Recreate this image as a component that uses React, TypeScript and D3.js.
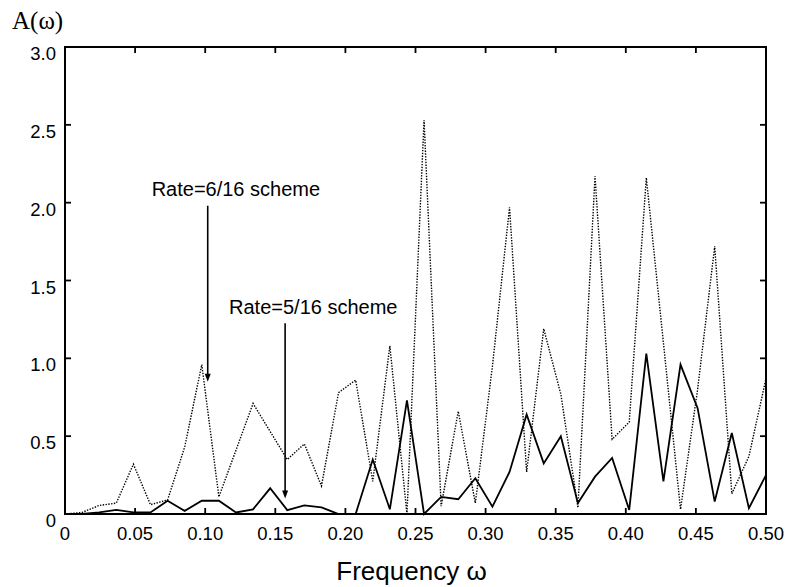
import { useMemo } from 'react';
import * as d3 from 'd3';

// frequency grid: DFT bins k/82, k = 0..41 (last bin lands on 0.5)
const bins = d3.range(42);
const freq = bins.map(k => k / 82);

// amplitude of the two schemes
const rate6 = [
  0, 0.01, 0.055, 0.07, 0.32, 0.06, 0.09, 0.43, 0.96, 0.11,
  0.41, 0.71, 0.53, 0.35, 0.45, 0.18, 0.78, 0.86, 0.21, 1.08,
  0.0, 2.53, 0.05, 0.66, 0.07, 0.95, 1.97, 0.27, 1.19, 0.77,
  0.04, 2.17, 0.48, 0.59, 2.16, 1.1, 0.03, 0.8, 1.72, 0.13,
  0.37, 0.87,
];
const rate5 = [
  0, 0, 0.01, 0.026, 0.01, 0.01, 0.085, 0.02, 0.085, 0.085,
  0.01, 0.03, 0.165, 0.025, 0.055, 0.043, 0.0, 0.0, 0.35, 0.03,
  0.73, 0.0, 0.11, 0.095, 0.23, 0.047, 0.27, 0.64, 0.325, 0.5,
  0.07, 0.24, 0.36, 0.026, 1.03, 0.21, 0.96, 0.68, 0.08, 0.52,
  0.037, 0.25,
];

const xTicks = [0, 0.05, 0.1, 0.15, 0.2, 0.25, 0.3, 0.35, 0.4, 0.45, 0.5];
const xTickLabels = ['0', '0.05', '0.10', '0.15', '0.20', '0.25', '0.30', '0.35', '0.40', '0.45', '0.50'];
const yTicks = [0, 0.5, 1, 1.5, 2, 2.5, 3];
const yTickLabels = ['0', '0.5', '1.0', '1.5', '2.0', '2.5', '3.0'];

// annotations: label position and arrow (data units)
const notes = [
  { text: 'Rate=6/16 scheme', tx: 0.0618, ty: 2.04, ax: 0.1018, y0: 1.98, y1: 0.85 },
  { text: 'Rate=5/16 scheme', tx: 0.117, ty: 1.285, ax: 0.157, y0: 1.225, y1: 0.1 },
];

const W = 785;
const H = 587;
const MARGIN = { top: 47, right: 19, bottom: 73, left: 65 };
const SANS = '"Liberation Sans", Arial, Helvetica, sans-serif';
const SERIF = '"Liberation Serif", "Times New Roman", serif';

export default function App() {
  const x = useMemo(() => d3.scaleLinear().domain([0, 0.5]).range([MARGIN.left, W - MARGIN.right]), []);
  const y = useMemo(() => d3.scaleLinear().domain([0, 3]).range([H - MARGIN.bottom, MARGIN.top]), []);

  const line = d3
    .line<number>()
    .x((_, i) => x(freq[i]))
    .y(d => y(d));

  const [x0, x1] = x.range();
  const [yb, yt] = y.range();
  const tick = 6;

  return (
    <div style={{ position: 'absolute', left: 0, top: 0 }}>
      <svg width={W} height={H} style={{ display: 'block', background: '#fff' }}>
        {/* series */}
        <path d={line(rate6) ?? ''} fill="none" stroke="#000" strokeWidth={1.4} strokeDasharray="1.4,1.4" />
        <path d={line(rate5) ?? ''} fill="none" stroke="#000" strokeWidth={1.8} strokeLinejoin="miter" />

        {/* frame */}
        <rect x={x0} y={yt} width={x1 - x0} height={yb - yt} fill="none" stroke="#000" strokeWidth={2} />

        {/* x ticks, bottom and top, pointing in */}
        {xTicks.map((t, i) => (
          <g key={'xt' + i}>
            <line x1={x(t)} x2={x(t)} y1={yb} y2={yb - tick} stroke="#000" strokeWidth={1.8} />
            <line x1={x(t)} x2={x(t)} y1={yt} y2={yt + tick} stroke="#000" strokeWidth={1.8} />
            <text x={x(t)} y={yb + 26} textAnchor="middle" fontFamily={SANS} fontSize={18.5}>
              {xTickLabels[i]}
            </text>
          </g>
        ))}

        {/* y ticks, left and right */}
        {yTicks.map((t, i) => (
          <g key={'yt' + i}>
            <line x1={x0} x2={x0 + tick} y1={y(t)} y2={y(t)} stroke="#000" strokeWidth={1.8} />
            <line x1={x1} x2={x1 - tick} y1={y(t)} y2={y(t)} stroke="#000" strokeWidth={1.8} />
            <text x={x0 - 9} y={y(t) + 13} textAnchor="end" fontFamily={SANS} fontSize={18.5}>
              {yTickLabels[i]}
            </text>
          </g>
        ))}

        {/* annotations with arrows */}
        {notes.map((n, i) => {
          const ax = x(n.ax);
          const tip = y(n.y1);
          return (
            <g key={'n' + i}>
              <text x={x(n.tx)} y={y(n.ty)} fontFamily={SANS} fontSize={20}>
                {n.text}
              </text>
              <line x1={ax} x2={ax} y1={y(n.y0)} y2={tip - 6} stroke="#000" strokeWidth={1.6} />
              <path d={`M${ax - 3},${tip - 8}L${ax + 3},${tip - 8}L${ax},${tip}Z`} fill="#000" />
            </g>
          );
        })}

        {/* axis titles */}
        <text x={12} y={29} fontFamily={SERIF} fontSize={25}>
          A(ω)
        </text>
        <text x={(x0 + x1) / 2 - 4} y={580} textAnchor="middle" fontFamily={SANS} fontSize={26}>
          Frequency ω
        </text>
      </svg>
    </div>
  );
}
